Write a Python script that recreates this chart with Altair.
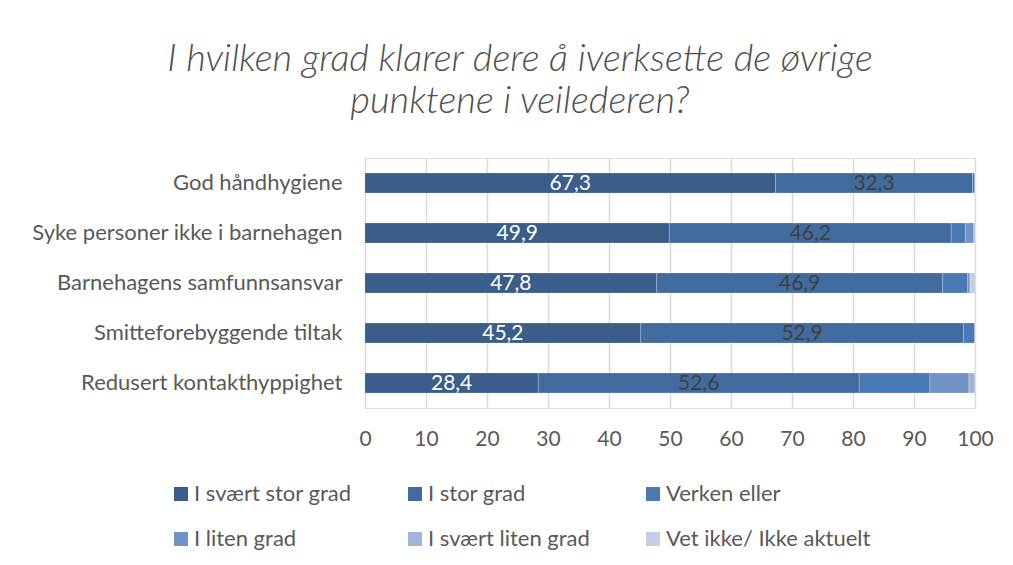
import altair as alt
import pandas as pd

categories = [
    "God håndhygiene",
    "Syke personer ikke i barnehagen",
    "Barnehagens samfunnsansvar",
    "Smitteforebyggende tiltak",
    "Redusert kontakthyppighet",
]
series = [
    "I svært stor grad",
    "I stor grad",
    "Verken eller",
    "I liten grad",
    "I svært liten grad",
    "Vet ikke/ Ikke aktuelt",
]
svaert_stor = [67.3, 49.9, 47.8, 45.2, 28.4]
stor = [32.3, 46.2, 46.9, 52.9, 52.6]
verken = [0.4, 2.3, 4.1, 1.9, 11.6]
liten = [0.0, 1.4, 0.4, 0.0, 6.4]
svaert_liten = [0.0, 0.2, 0.0, 0.0, 1.0]
vet_ikke = [0.0, 0.0, 0.8, 0.0, 0.0]
colors = ["#3A5D8A", "#416B9F", "#4A79B6", "#7193C7", "#A3B4D8", "#C3CDE4"]
label_colors = ["#FFFFFF", "#404040"]
xticks = [0, 10, 20, 30, 40, 50, 60, 70, 80, 90, 100]

values = [svaert_stor, stor, verken, liten, svaert_liten, vet_ikke]
rows = []
for si, s in enumerate(series):
    for ci, c in enumerate(categories):
        v = values[si][ci]
        lab = f"{v:.1f}".replace(".", ",") if si < 2 else ""
        tc = label_colors[si] if si < 2 else "#000000"
        rows.append({"cat": c, "series": s, "idx": si, "value": v, "label": lab, "tc": tc})
df = pd.DataFrame(rows)

FONT = "Lato"
GRAY = "#595959"

base = alt.Chart(df).transform_stack(
    stack="value", groupby=["cat"], as_=["x0", "x1"], sort=[alt.SortField("idx", order="ascending")]
)

bars = base.mark_bar(size=20, stroke="#FFFFFF", strokeWidth=0.4, strokeOpacity=0.5).encode(
    y=alt.Y("cat:N", sort=categories, title=None,
            axis=alt.Axis(domain=False, ticks=False, labelPadding=23, labelFontSize=22,
                          labelColor=GRAY, labelFont=FONT, labelLimit=400)),
    x=alt.X("x0:Q", scale=alt.Scale(domain=[0, 100], nice=False), title=None,
            axis=alt.Axis(values=xticks, domain=False, ticks=False, grid=True, gridColor="#D9D9D9",
                          gridWidth=1.5, labelFontSize=21, labelColor=GRAY, labelFont=FONT,
                          labelPadding=20, labelFlush=False)),
    x2="x1:Q",
    color=alt.Color("series:N", scale=alt.Scale(domain=series, range=colors),
                    legend=alt.Legend(title=None, orient="none", legendX=-195, legendY=325,
                                      columns=3, direction="horizontal", symbolType="square",
                                      symbolSize=196, symbolStrokeWidth=0, labelFontSize=22,
                                      labelColor=GRAY, labelFont=FONT, labelOffset=2,
                                      columnPadding=52, rowPadding=23, padding=0, labelLimit=400)),
    order=alt.Order("idx:Q"),
)

texts = base.transform_filter(alt.datum.label != "").transform_calculate(
    xm="(datum.x0 + datum.x1) / 2"
).mark_text(fontSize=21, font=FONT, baseline="middle", dy=1).encode(
    y=alt.Y("cat:N", sort=categories),
    x=alt.X("xm:Q"),
    text="label:N",
    color=alt.Color("tc:N", scale=None),
)

chart = alt.layer(bars, texts).properties(
    width=610,
    height=250,
    autosize=alt.AutoSizeParams(type="none"),
    padding={"left": 357, "top": 150, "right": 30, "bottom": 149},
    title=alt.TitleParams(
        text=["I hvilken grad klarer dere å iverksette de øvrige", "punktene i veilederen?"],
        font=FONT, fontSize=38, fontStyle="italic", fontWeight=300, color="#505050",
        anchor="middle", dx=-150, offset=37, lineHeight=42,
    ),
).configure_view(stroke=None).configure(background="#FFFFFF")

chart.save("out.html", embed_options={"renderer": "svg", "actions": False})
